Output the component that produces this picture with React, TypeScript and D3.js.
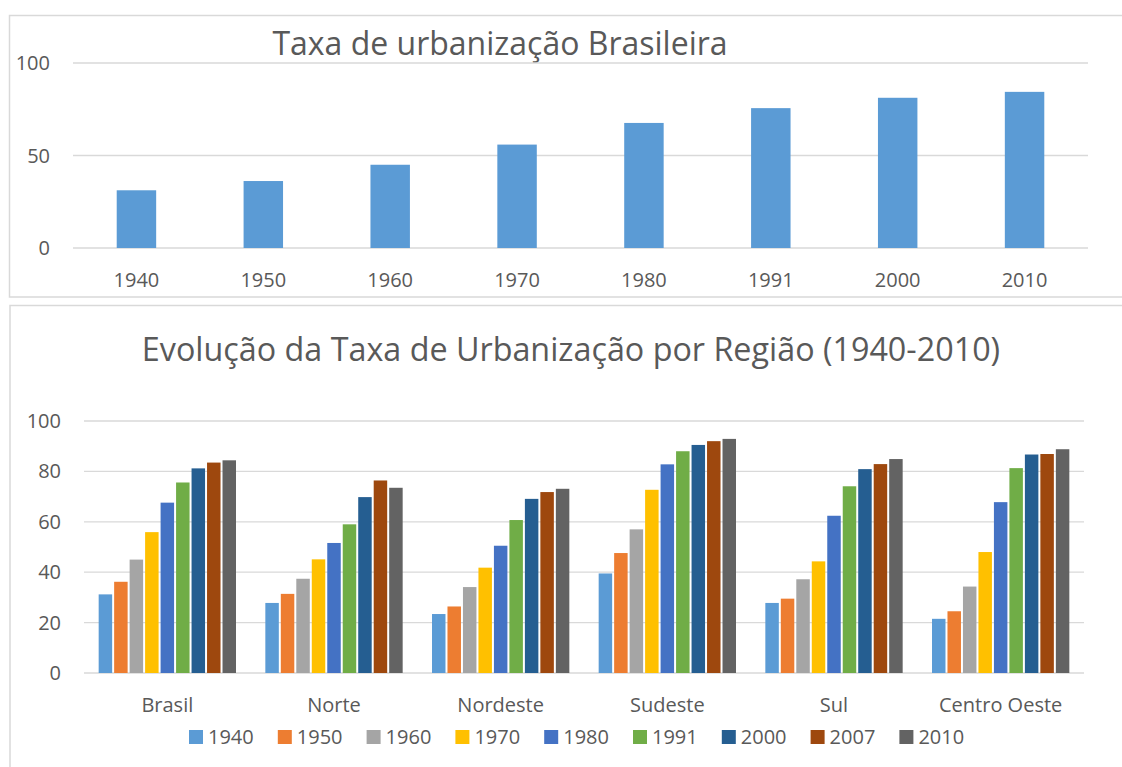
import React from "react";
import * as d3 from "d3";

const years = ["1940", "1950", "1960", "1970", "1980", "1991", "2000", "2010"];
const brasilRate = [31.2, 36.2, 45.0, 55.9, 67.6, 75.6, 81.2, 84.4];
const topTicks = [0, 50, 100];

const regions = ["Brasil", "Norte", "Nordeste", "Sudeste", "Sul", "Centro Oeste"];
const seriesYears = ["1940", "1950", "1960", "1970", "1980", "1991", "2000", "2007", "2010"];
const seriesColors = ["#5B9BD5", "#ED7D31", "#A5A5A5", "#FFC000", "#4472C4", "#70AD47", "#255E91", "#9E480E", "#636363"];
const v1940 = [31.2, 27.8, 23.4, 39.5, 27.8, 21.5];
const v1950 = [36.2, 31.4, 26.4, 47.6, 29.5, 24.5];
const v1960 = [45.0, 37.4, 34.1, 57.0, 37.2, 34.3];
const v1970 = [55.9, 45.1, 41.8, 72.7, 44.3, 48.0];
const v1980 = [67.6, 51.6, 50.5, 82.8, 62.4, 67.8];
const v1991 = [75.6, 59.0, 60.7, 88.0, 74.1, 81.3];
const v2000 = [81.2, 69.8, 69.1, 90.5, 80.9, 86.7];
const v2007 = [83.5, 76.4, 71.8, 92.0, 82.9, 86.9];
const v2010 = [84.4, 73.5, 73.1, 92.9, 84.9, 88.8];
const seriesValues = [v1940, v1950, v1960, v1970, v1980, v1991, v2000, v2007, v2010];
const bottomTicks = [0, 20, 40, 60, 80, 100];

const FONT = "'Open Sans', sans-serif";
const TXT = "#595959";
const GRID = "#D9D9D9";

export default function App() {
  // top chart
  const tx = d3.scaleBand<string>().domain(years).range([73, 1088]).padding(0);
  const ty = d3.scaleLinear().domain([0, 100]).range([248, 63]);
  const topBarW = tx.bandwidth() * 0.311;

  // bottom chart
  const bx = d3.scaleBand<string>().domain(regions).range([84, 1084]).padding(0);
  const groupW = bx.bandwidth() * 0.836;
  const inner = d3.scaleBand<string>().domain(seriesYears).range([0, groupW]).padding(0);
  const by = d3.scaleLinear().domain([0, 100]).range([673, 421]);

  const legendStart = 189;
  const legendPitch = 88.8;

  return (
    <svg
      width={1122}
      height={767}
      style={{ position: "fixed", left: 0, top: 0, background: "#fff" }}
      fontFamily={FONT}
    >
      <rect x={0} y={0} width={1122} height={767} fill="#fff" />
      {/* top chart frame */}
      <path d="M1122,15.5 H9.5 V297 H1122" fill="none" stroke={GRID} strokeWidth={1.5} />
      <text x={500} y={55} fontSize={32} fill={TXT} textAnchor="middle">
        Taxa de urbanização Brasileira
      </text>
      {topTicks.map((t) => (
        <g key={"tt" + t}>
          <line x1={73} x2={1088} y1={ty(t)} y2={ty(t)} stroke={GRID} strokeWidth={1.3} />
          <text x={50} y={ty(t)} dy="0.35em" fontSize={20} fill={TXT} textAnchor="end">
            {t}
          </text>
        </g>
      ))}
      {years.map((y, i) => (
        <g key={"tb" + y}>
          <rect
            x={(tx(y) as number) + tx.bandwidth() / 2 - topBarW / 2}
            y={ty(brasilRate[i])}
            width={topBarW}
            height={ty(0) - ty(brasilRate[i])}
            fill="#5B9BD5"
          />
          <text
            x={(tx(y) as number) + tx.bandwidth() / 2}
            y={280}
            dy="0.35em"
            fontSize={20}
            fill={TXT}
            textAnchor="middle"
          >
            {y}
          </text>
        </g>
      ))}

      {/* bottom chart frame */}
      <path d="M1122,305.5 H10 V767" fill="none" stroke={GRID} strokeWidth={1.5} />
      <text x={571} y={361} fontSize={32.3} fill={TXT} textAnchor="middle">
        Evolução da Taxa de Urbanização por Região (1940-2010)
      </text>
      {bottomTicks.map((t) => (
        <g key={"bt" + t}>
          <line x1={84} x2={1084} y1={by(t)} y2={by(t)} stroke={GRID} strokeWidth={1.3} />
          <text x={61} y={by(t)} dy="0.35em" fontSize={20} fill={TXT} textAnchor="end">
            {t}
          </text>
        </g>
      ))}
      {regions.map((r, ri) => {
        const gx = (bx(r) as number) + (bx.bandwidth() - groupW) / 2;
        return (
          <g key={"r" + r}>
            {seriesYears.map((sy, si) => {
              const v = seriesValues[si][ri];
              return (
                <rect
                  key={sy}
                  x={gx + (inner(sy) as number) + 1}
                  y={by(v)}
                  width={inner.bandwidth() - 2}
                  height={by(0) - by(v)}
                  fill={seriesColors[si]}
                />
              );
            })}
            <text
              x={(bx(r) as number) + bx.bandwidth() / 2}
              y={705}
              dy="0.35em"
              fontSize={20}
              fill={TXT}
              textAnchor="middle"
            >
              {r}
            </text>
          </g>
        );
      })}
      {seriesYears.map((sy, si) => (
        <g key={"lg" + sy} transform={`translate(${legendStart + si * legendPitch},737)`}>
          <rect x={0} y={-7} width={14} height={14} fill={seriesColors[si]} />
          <text x={19} y={0} dy="0.35em" fontSize={20} fill={TXT}>
            {sy}
          </text>
        </g>
      ))}
    </svg>
  );
}
